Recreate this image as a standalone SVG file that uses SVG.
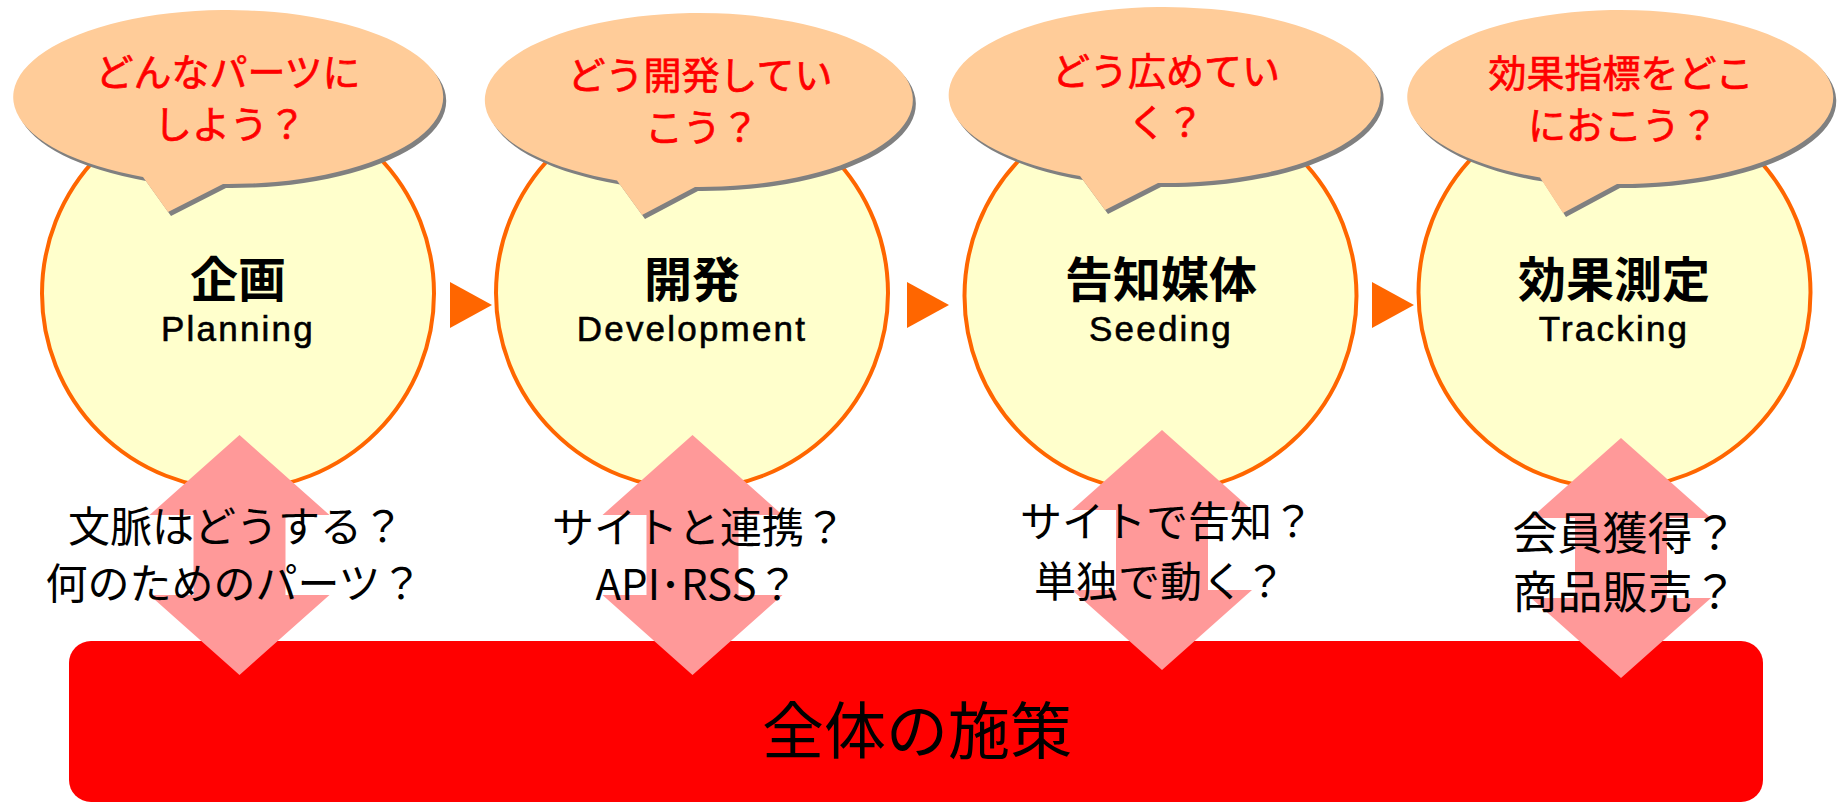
<svg xmlns="http://www.w3.org/2000/svg" xmlns:xlink="http://www.w3.org/1999/xlink" width="1838" height="804" viewBox="0 0 1838 804">
<style>
.circle{fill:#FFFFCC;stroke:#FF6600;stroke-width:4}
.shadow{fill:#808080}
.bubble{fill:#FFCC99}
.q{fill:#FF0000;stroke:#FF0000;stroke-width:0.7px;font-family:"Noto Sans CJK JP","Noto Sans CJK SC",sans-serif;font-size:38px;text-anchor:middle}
.title{fill:#000;font-family:"Noto Sans CJK JP","Noto Sans CJK SC",sans-serif;font-weight:bold;font-size:48px;text-anchor:middle}
.en{fill:#000;stroke:#000;stroke-width:0.6px;font-family:"Liberation Sans",Arial,sans-serif;font-size:35px;letter-spacing:2.2px;text-anchor:middle}
.lbl{fill:#000;font-family:"Noto Sans CJK JP","Noto Sans CJK SC",sans-serif;font-size:42px;text-anchor:middle}
.tri{fill:#FF6600}
.dbl{fill:#FF9999}
.bar{fill:#FF0000}
.bartext{fill:#000;font-family:"Noto Sans CJK JP","Noto Sans CJK SC",sans-serif;font-size:62px;text-anchor:middle}
</style>
<defs>
<path id="b1" d="M143,176.9 A215,87 0 1 1 223,184 L168,212 Z"/>
<path id="b2" d="M617,180.4 A214,87 0 1 1 695,187 L642,215 Z"/>
<path id="b3" d="M1080,176 A216,88 0 1 1 1158,183 L1105,210 Z"/>
<path id="b4" d="M1540,177.6 A213,87 0 1 1 1617,184 L1563,213 Z"/>
<path id="dblarrow" d="M0,0 L90,80 L46,80 L46,160 L90,160 L0,240 L-90,160 L-46,160 L-46,80 L-90,80 Z"/>
<path id="tri" d="M0,0 L42,23 L0,46 Z"/>
</defs>

<g id="node-planning">
<circle class="circle" cx="238" cy="293.5" r="196"/>
<use xlink:href="#b1" href="#b1" class="shadow" transform="translate(3,4)"/>
<use xlink:href="#b1" href="#b1" class="bubble"/>
<text class="q" x="228" y="86">どんなパーツに</text>
<text class="q" x="230" y="138">しよう？</text>
<text class="title" x="238" y="297">企画</text>
<text class="en" x="238" y="341">Planning</text>
</g>

<g id="node-development">
<circle class="circle" cx="692" cy="293" r="196"/>
<use xlink:href="#b2" href="#b2" class="shadow" transform="translate(3,4)"/>
<use xlink:href="#b2" href="#b2" class="bubble"/>
<text class="q" x="700" y="89">どう開発してい</text>
<text class="q" x="702" y="141">こう？</text>
<text class="title" x="692" y="297">開発</text>
<text class="en" x="692" y="341">Development</text>
</g>

<g id="node-seeding">
<circle class="circle" cx="1160.5" cy="296" r="196"/>
<use xlink:href="#b3" href="#b3" class="shadow" transform="translate(3,4)"/>
<use xlink:href="#b3" href="#b3" class="bubble"/>
<text class="q" x="1166" y="85">どう広めてい</text>
<text class="q" x="1166" y="136">く？</text>
<text class="title" x="1161" y="297">告知媒体</text>
<text class="en" x="1161" y="341">Seeding</text>
</g>

<g id="node-tracking">
<circle class="circle" cx="1614.5" cy="292.5" r="196"/>
<use xlink:href="#b4" href="#b4" class="shadow" transform="translate(3,4)"/>
<use xlink:href="#b4" href="#b4" class="bubble"/>
<text class="q" x="1621" y="87">効果指標をどこ</text>
<text class="q" x="1623" y="139">におこう？</text>
<text class="title" x="1614" y="297">効果測定</text>
<text class="en" x="1614" y="341">Tracking</text>
</g>

<g id="node-overall">
<rect class="bar" x="69" y="641" width="1694" height="161" rx="22" ry="22"/>
<text class="bartext" x="917" y="754">全体の施策</text>
</g>

<g id="connectors">
<use xlink:href="#tri" href="#tri" class="tri" transform="translate(450,282)"/>
<use xlink:href="#tri" href="#tri" class="tri" transform="translate(907,282)"/>
<use xlink:href="#tri" href="#tri" class="tri" transform="translate(1372,282)"/>
<use xlink:href="#dblarrow" href="#dblarrow" class="dbl" transform="translate(239.5,435)"/>
<use xlink:href="#dblarrow" href="#dblarrow" class="dbl" transform="translate(692.5,435)"/>
<use xlink:href="#dblarrow" href="#dblarrow" class="dbl" transform="translate(1162,430)"/>
<use xlink:href="#dblarrow" href="#dblarrow" class="dbl" transform="translate(1621,438)"/>
</g>

<g id="connector-labels">
<text class="lbl" x="236" y="542">文脈はどうする？</text>
<text class="lbl" x="234" y="599">何のためのパーツ？</text>
<text class="lbl" x="699" y="543">サイトと連携？</text>
<text class="lbl" x="697" y="600">API･RSS？</text>
<text class="lbl" x="1167" y="537">サイトで告知？</text>
<text class="lbl" x="1160" y="597">単独で動く？</text>
<text class="lbl" x="1625" y="550" style="font-size:45px">会員獲得？</text>
<text class="lbl" x="1625" y="609" style="font-size:45px">商品販売？</text>
</g>
</svg>
